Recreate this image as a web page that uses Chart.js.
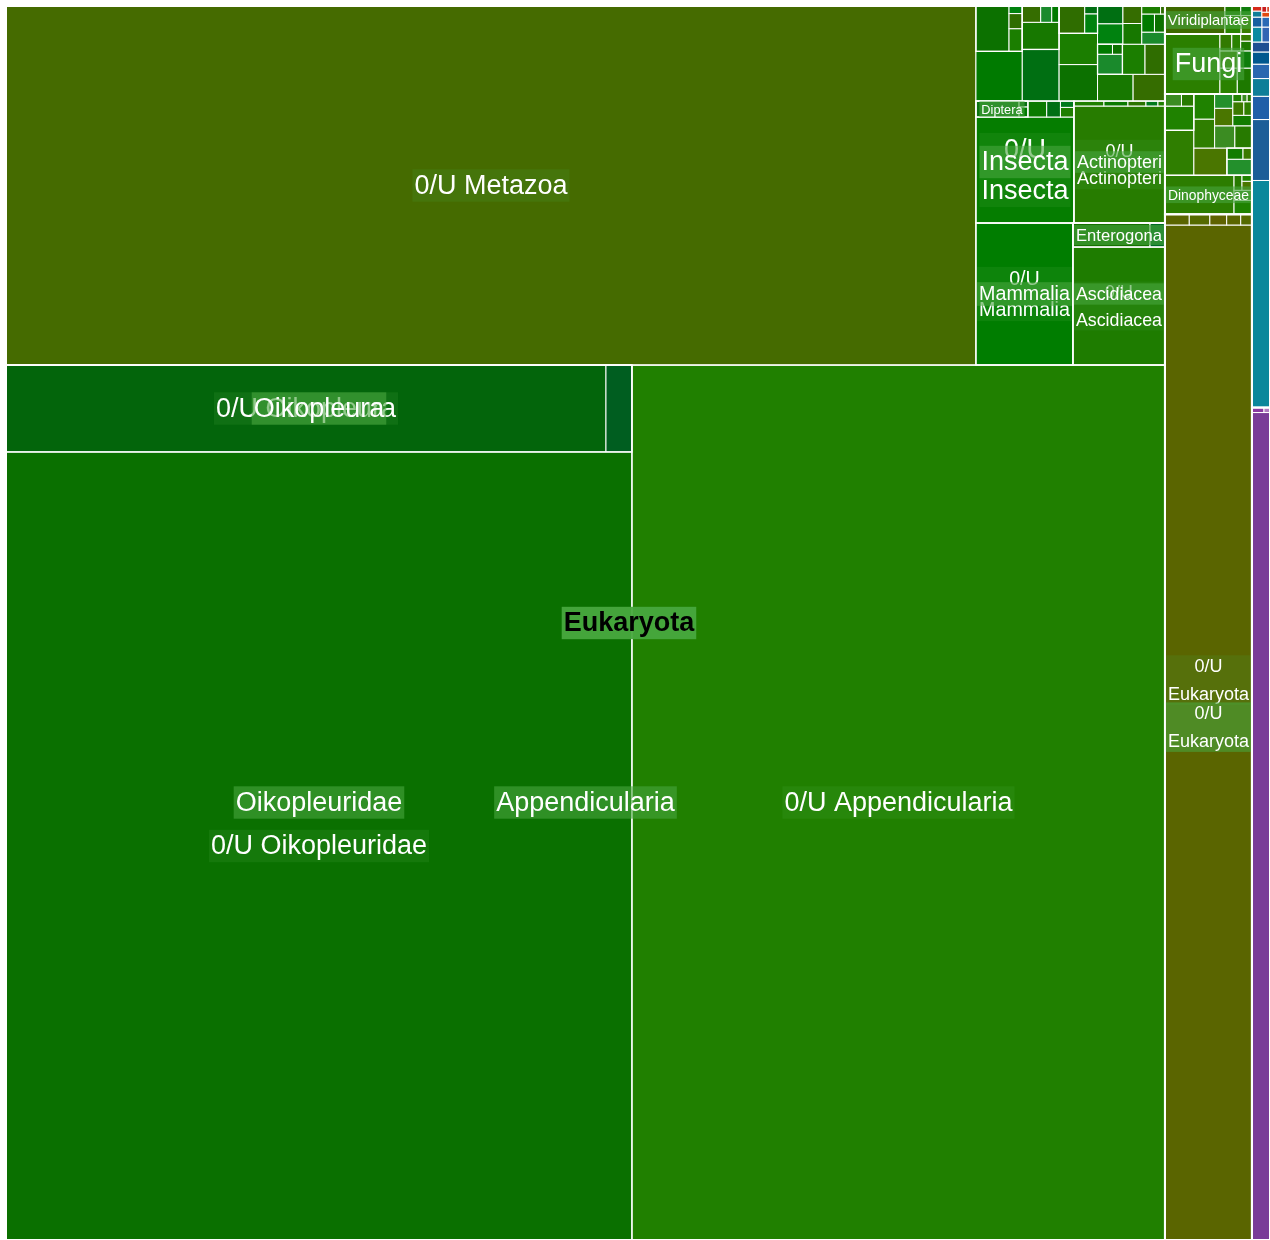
<!DOCTYPE html>
<html>
<head>
<meta charset="utf-8">
<title>Eukaryota treemap</title>
<script src="https://cdn.jsdelivr.net/npm/chart.js@4.4.1/dist/chart.umd.min.js"></script>
<style>
  html, body { margin: 0; padding: 0; background: #fff; }
  #wrap { width: 1270px; height: 1240px; }
</style>
</head>
<body>
<div id="wrap"><canvas id="tree" width="1270" height="1240"></canvas></div>
<script>
// Named taxa: id, parent, shown label, read count (groups get the sum of their children)
const ids = ['root', 'euk', 'metazoa', 'append', 'oikid', 'oik', 'uOik', 'oikX', 'uOikid', 'uAppend', 'uMetazoa',
  'mamm', 'uMamm', 'ascid', 'uAscid', 'entero', 'uEntero', 'enteroX', 'insecta', 'uInsecta', 'diptera', 'uDiptera',
  'actino', 'uActino', 'uEukGrp', 'uEuk', 'alv', 'dino', 'uDino', 'fungi', 'uFungi', 'virid', 'uVirid',
  'other1', 'uOther1', 'other2', 'o2a', 'o2b'];
const parents = ['', 'root', 'euk', 'metazoa', 'append', 'oikid', 'oik', 'oik', 'oikid', 'append', 'metazoa',
  'metazoa', 'mamm', 'metazoa', 'ascid', 'ascid', 'entero', 'entero', 'metazoa', 'insecta', 'insecta', 'diptera',
  'metazoa', 'actino', 'euk', 'uEukGrp', 'euk', 'alv', 'dino', 'euk', 'fungi', 'euk', 'virid',
  'root', 'other1', 'root', 'other2', 'other2'];
const labels = ['', 'Eukaryota', '', 'Appendicularia', 'Oikopleuridae', 'Oikopleura', '0/U Oikopleura', '', '0/U Oikopleuridae', '0/U Appendicularia', '0/U Metazoa',
  'Mammalia', '0/U Mammalia', 'Ascidiacea', '0/U Ascidiacea', 'Enterogona', '', '', 'Insecta', '0/U Insecta', 'Diptera', '',
  'Actinopteri', '0/U Actinopteri', '0/U Eukaryota', '0/U Eukaryota', '', 'Dinophyceae', '', 'Fungi', '', 'Viridiplantae', '',
  '', '', '', '', ''];
const reads = [0, 0, 0, 0, 0, 0, 52200, 2262, 493288, 466375, 348230,
  0, 13774, 0, 10856, 0, 1850, 358, 0, 10388, 0, 690,
  0, 10647, 0, 88305, 0, 0, 2700, 0, 3300, 0, 1680,
  0, 14940, 0, 4100, 1100];

// smaller unnamed taxa (read counts); a nested list is a taxon with sub-taxa
const metazoaMinor = [2300, [1500, 300, 200, 100], 1900, [1000, 300, 180, 120], 1400, 1200, [700, 250, 100], 950, 850,
  [500, 150, 100], 680, 600, 520, 450, 390, 330, 280, 230, 190, 150, 35];
const insectaMinor = [300, 220, 130, 86];
const dipteraMinor = [90, 52];
const actinoMinor = [150, 120, 90, 60, 35];
const alvMinor = [1300, [700, 200, 150], 900, [400, 180, 100], 600, 520, 450, 380, 320, 260, 200, 150, 110, 70, 40, 37];
const dinoMinor = [250, 180, 120, 90, 60];
const fungiMinor = [450, 380, 300, 250, 200, 150, 110, 80];
const viridMinor = [300, 200, 150, 106];
const uEukMinor = [260, 220, 180, 150, 120];
const other1Minor = [60, 30];
const other2Minor = [420, 320, 260, 220, 180, 150, 120, 100, 80, 60, 50, 40, 30, 20];

const minorTaxa = [
  ['metazoa', metazoaMinor], ['insecta', insectaMinor], ['diptera', dipteraMinor], ['actino', actinoMinor],
  ['alv', alvMinor], ['dino', dinoMinor], ['fungi', fungiMinor], ['virid', viridMinor],
  ['uEukGrp', uEukMinor], ['other1', other1Minor], ['other2', other2Minor]
];

// colours
const fills = {
  uOik: '#03650b', oikX: '#005e20', uOikid: '#0a7000', uAppend: '#208000', uMetazoa: '#456b00',
  uMamm: '#007d00', uAscid: '#1e7c00', uEntero: '#157200', enteroX: '#006b25', uInsecta: '#057d00',
  uDiptera: '#0d7412', uActino: '#277c00', uEuk: '#5a6500', uDino: '#2c7d00', uFungi: '#2b7f00',
  uVirid: '#3e6a00', uOther1: '#7a3c98', o2a: '#0a879b', o2b: '#1c5e98'
};
const minorShades = {
  metazoa: ['#007a00', '#0c7100', '#1b7e00', '#2f6d00', '#00820f', '#006f12', '#177800', '#356d00', '#1a8a2c'],
  insecta: ['#0a7a00', '#006f14', '#1e7f00', '#007a1c'],
  diptera: ['#007a00', '#0a6f14'],
  actino: ['#1e7f00', '#0a7a00', '#2a7400', '#007a1c'],
  alv: ['#2f7e00', '#1f8200', '#3b8c22', '#277a00', '#4a7600', '#23902c', '#137c00', '#3c7a00'],
  dino: ['#1f8200', '#3b8c22', '#277a00', '#4a7600'],
  fungi: ['#2a8200', '#1d7900', '#3b7e00', '#0f7d0c', '#327a00'],
  virid: ['#2a8200', '#3b7e00', '#1d7900', '#0f7d0c'],
  uEukGrp: ['#5a6500', '#556a00', '#5f6200'],
  other1: ['#8a3aa0', '#b07ac0'],
  other2: ['#1f5fa8', '#0d7e98', '#2a68b0', '#00588f', '#1e4f92', '#0a8aa0', '#3366b3', '#155fa0',
           '#2a6ab5', '#0d7e98', '#d62a1a', '#e04a10', '#c81e1e', '#d94a2a']
};

const FONT = '"Liberation Sans", Arial, Helvetica, sans-serif';

function buildTree() {
  const nodes = {};
  ids.forEach((id, i) => {
    nodes[id] = { id, label: labels[i], value: reads[i], children: [], parent: parents[i], fill: fills[id] };
  });
  ids.forEach(id => { const n = nodes[id]; if (n.parent) nodes[n.parent].children.push(n); });
  minorTaxa.forEach(([pid, list]) => {
    const shades = minorShades[pid];
    let c = 0;
    list.forEach((v, k) => {
      const id = pid + '_' + k;
      if (Array.isArray(v)) {
        const g = { id, label: '', value: 0, children: [] };
        v.forEach((w, j) => g.children.push({ id: id + '_' + j, label: '', value: w, children: [], fill: shades[(c++) % shades.length] }));
        nodes[pid].children.push(g);
      } else {
        nodes[pid].children.push({ id, label: '', value: v, children: [], fill: shades[(c++) % shades.length] });
      }
    });
  });
  const total = n => n.children.length ? (n.value = n.children.reduce((s, ch) => s + total(ch), 0)) : n.value;
  total(nodes.root);
  return nodes.root;
}

// worst aspect ratio of a row of nodes laid along a side
function worst(row, side, scale) {
  let s = 0, mx = -Infinity, mn = Infinity;
  row.forEach(n => { const a = n.value * scale; s += a; mx = Math.max(mx, a); mn = Math.min(mn, a); });
  return Math.max(side * side * mx / (s * s), (s * s) / (side * side * mn));
}

// squarified layout, y pointing up, filling from the bottom-left corner
function layout(node, x, y, w, h, depth) {
  node.rect = { x, y, w, h };
  node.depth = depth;
  if (!node.children.length) return;
  let rest = node.children.slice().sort((a, b) => b.value - a.value);
  while (rest.length) {
    const total = rest.reduce((s, n) => s + n.value, 0);
    const scale = w * h / total;
    const wide = w >= h;
    const side = wide ? h : w;
    let k = 1, best = worst(rest.slice(0, 1), side, scale);
    while (k < rest.length) {
      const r = worst(rest.slice(0, k + 1), side, scale);
      if (r > best) break;
      best = r; k++;
    }
    const row = rest.slice(0, k);
    const thick = row.reduce((s, n) => s + n.value, 0) * scale / side;
    let off = 0;
    row.forEach(n => {
      const len = n.value * scale / thick;
      if (wide) layout(n, x, y + off, thick, len, depth + 1);
      else layout(n, x + off, y, len, thick, depth + 1);
      off += len;
    });
    if (wide) { x += thick; w -= thick; } else { y += thick; h -= thick; }
    rest = rest.slice(k);
  }
}

function fitLabel(ctx, text, w, h, bold) {
  ctx.font = (bold ? 'bold ' : '') + '100px ' + FONT;
  const per = s => ctx.measureText(s).width / 100;
  const maxSize = 27;
  const one = Math.min(maxSize, (w - 6) / per(text), h * 0.8);
  let res = { lines: [text], size: one };
  if (text.startsWith('0/U ')) {
    const rest = text.slice(4);
    const two = Math.min(maxSize, (w - 6) / Math.max(per('0/U'), per(rest)), h / 3.2);
    if (two > one * 1.15) res = { lines: ['0/U', rest], size: two };
  }
  return res;
}

const treemapPlugin = {
  id: 'treemap',
  beforeDatasetsDraw(chart) {
    const { ctx, chartArea, scales } = chart;
    const sx = scales.x, sy = scales.y;
    const W = chartArea.width, H = chartArea.height;
    const root = buildTree();
    layout(root, 0, 0, W, H, 0);

    const all = [];
    (function walk(n) { all.push(n); n.children.forEach(walk); })(root);

    const box = n => {
      const r = n.rect;
      const l = sx.getPixelForValue(r.x / W), rr = sx.getPixelForValue((r.x + r.w) / W);
      const t = sy.getPixelForValue((r.y + r.h) / H), b = sy.getPixelForValue(r.y / H);
      return { x: l, y: t, w: rr - l, h: b - t };
    };

    ctx.save();
    // cells
    all.filter(n => !n.children.length).forEach(n => {
      const p = box(n);
      ctx.fillStyle = n.fill || '#1a7a00';
      ctx.fillRect(p.x, p.y, p.w, p.h);
      ctx.strokeStyle = '#ffffff';
      ctx.lineWidth = 1;
      ctx.strokeRect(p.x, p.y, p.w, p.h);
    });
    // group outlines
    all.filter(n => n.children.length && n.depth > 0).forEach(n => {
      const p = box(n);
      ctx.strokeStyle = '#ffffff';
      ctx.lineWidth = n.depth <= 2 ? 2 : 1.3;
      ctx.strokeRect(p.x, p.y, p.w, p.h);
    });

    // labels, deepest first so parents sit on top
    const placed = [];
    all.filter(n => n.label).sort((a, b) => b.depth - a.depth).forEach(n => {
      const p = box(n);
      const bold = n.id === 'euk';
      const f = fitLabel(ctx, n.label, p.w, p.h, bold);
      if (f.size < 7) return;
      const lineH = f.lines.length > 1 ? f.size * 1.55 : f.size * 1.2;
      const item = { n, f, lineH, cx: p.x + p.w / 2, cy: p.y + p.h / 2, bold,
        blockH: (f.lines.length - 1) * lineH + f.size * 1.2 };
      // same text on the same spot: move the earlier one up
      placed.forEach(o => {
        if (o.n.label === n.label && Math.abs(o.cx - item.cx) < 4 && Math.abs(o.cy - item.cy) < 10) {
          o.cy -= o.blockH + 3;
        }
      });
      placed.push(item);
    });
    placed.forEach(it => {
      const { n, f, lineH, bold } = it;
      ctx.font = (bold ? 'bold ' : '') + f.size.toFixed(1) + 'px ' + FONT;
      ctx.textAlign = 'center';
      ctx.textBaseline = 'middle';
      const tw = Math.max(...f.lines.map(s => ctx.measureText(s).width));
      const top = it.cy - it.blockH / 2;
      ctx.fillStyle = bold ? 'rgba(72,168,62,0.95)' : (n.children.length ? 'rgba(72,165,62,0.6)' : 'rgba(72,165,62,0.18)');
      ctx.fillRect(it.cx - tw / 2 - 2, top, tw + 4, it.blockH);
      ctx.fillStyle = bold ? '#000000' : '#ffffff';
      f.lines.forEach((s, i) => {
        const ly = it.cy - ((f.lines.length - 1) * lineH) / 2 + i * lineH;
        ctx.fillText(s, it.cx, ly + 1);
      });
    });
    ctx.restore();
  }
};

new Chart(document.getElementById('tree').getContext('2d'), {
  type: 'scatter',
  data: { datasets: [{ label: 'reads', data: [] }] },
  options: {
    responsive: false,
    animation: false,
    devicePixelRatio: 1,
    layout: { padding: { left: 6, top: 6, right: 0, bottom: 0 } },
    scales: {
      x: { type: 'linear', min: 0, max: 1, display: false },
      y: { type: 'linear', min: 0, max: 1, display: false }
    },
    plugins: { legend: { display: false }, tooltip: { enabled: false } }
  },
  plugins: [treemapPlugin]
});
</script>
</body>
</html>
